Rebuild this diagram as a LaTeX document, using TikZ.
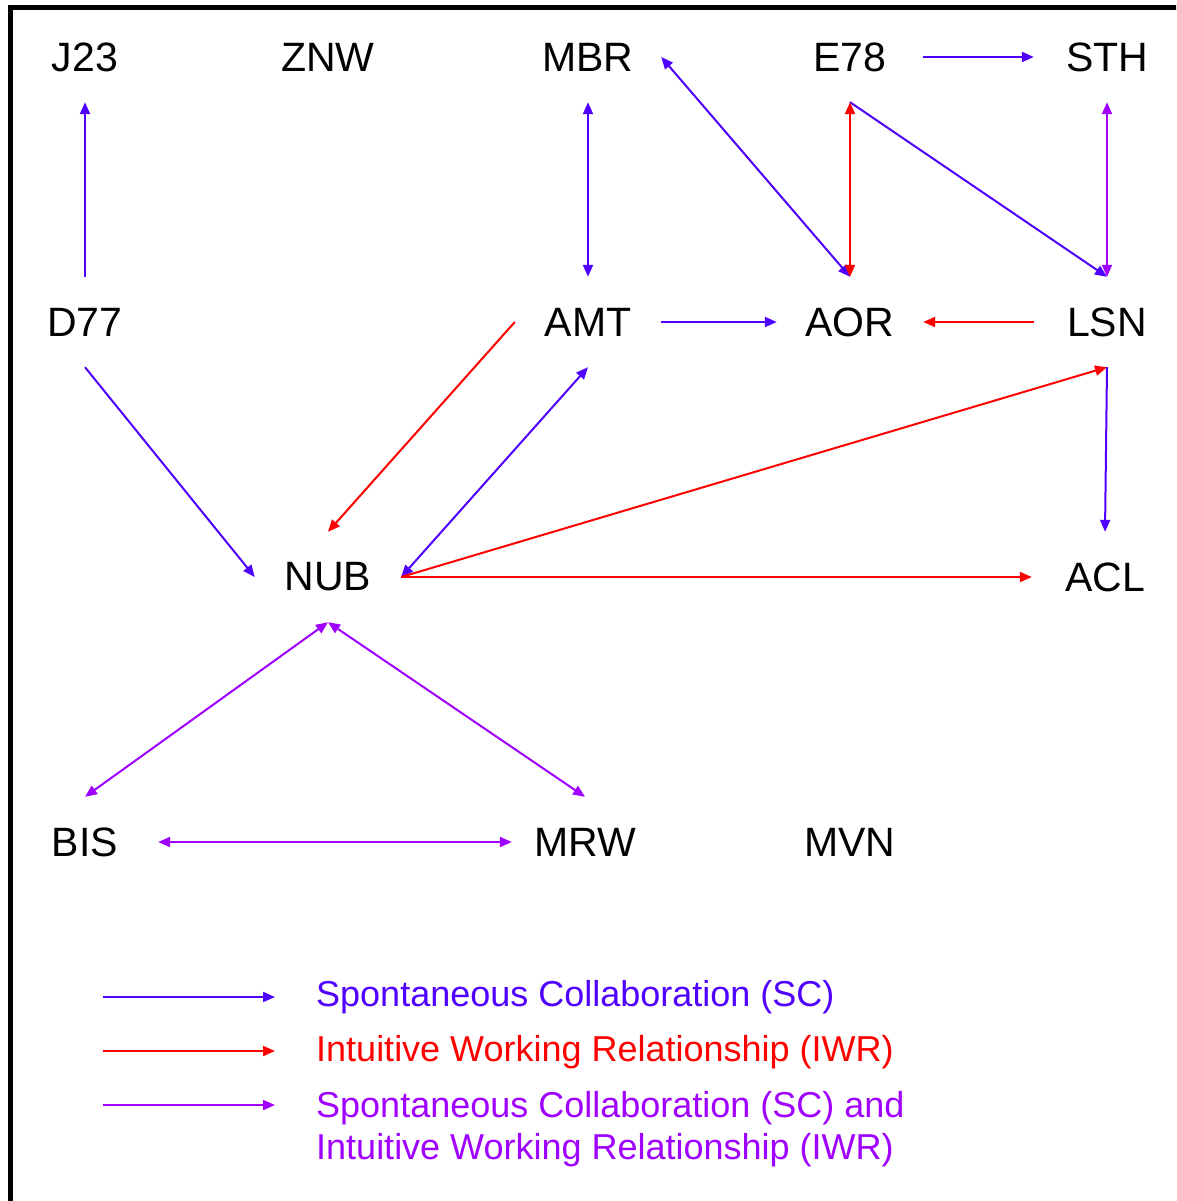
\documentclass[tikz,border=0pt]{standalone}
\usepackage{fontspec}
\setmainfont{Liberation Sans}
\usetikzlibrary{arrows.meta}
\definecolor{scblue}{HTML}{5000FF}
\definecolor{iwrred}{HTML}{FF0000}
\definecolor{bothpurple}{HTML}{A000FF}
\tikzset{
  lab/.style={minimum width=146pt, minimum height=90pt, inner sep=0pt,
    font=\fontsize{41}{41}\selectfont},
  legtext/.style={anchor=base west, inner sep=0pt, font=\fontsize{36}{43}\selectfont},
  headtip/.style={-{Triangle[length=12pt,width=10pt]}},
  bothtip/.style={{Triangle[length=12pt,width=10pt]}-{Triangle[length=12pt,width=10pt]}},
  sc/.style={draw=scblue, line width=2pt},
  iwr/.style={draw=iwrred, line width=2pt},
  both/.style={draw=bothpurple, line width=2pt}
}
\begin{document}
\begin{tikzpicture}[x=1pt,y=-1pt]
\useasboundingbox (0,0) rectangle (1176,1201);
\fill[white] (0,0) rectangle (1176,1201);
\begin{scope}
  \clip (0,0) rectangle (1176,1201);
  \draw[line width=5pt] (10.8,7.5) rectangle (1260,1260);
\end{scope}

% nodes
\node[lab] (J23) at (85,57) {J23};
\node[lab] (ZNW) at (328,57) {ZNW};
\node[lab] (MBR) at (588,57) {MBR};
\node[lab] (E78) at (850,57) {E78};
\node[lab] (STH) at (1107,57) {STH};
\node[lab] (D77) at (85,322) {D77};
\node[lab] (AMT) at (588,322) {AMT};
\node[lab] (AOR) at (850,322) {AOR};
\node[lab] (LSN) at (1107,322) {LSN};
\node[lab] (NUB) at (328,577) {NUB};
\node[lab] (ACL) at (1105,577) {ACL};
\node[lab] (BIS) at (85,842) {BIS};
\node[lab] (MRW) at (585,842) {MRW};
\node[lab] (MVN) at (850,842) {MVN};

% connectors
\draw[sc,headtip] (D77.north) -- (J23.south);
\draw[sc,headtip] (D77.south) -- (NUB.west);
\draw[sc,bothtip] (MBR.south) -- (AMT.north);
\draw[sc,bothtip] (MBR.east) -- (AOR.north);
\draw[sc,headtip] (E78.east) -- (STH.west);
\draw[sc,headtip] (E78.south) -- (LSN.north);
\draw[iwr,bothtip] (E78.south) -- (AOR.north);
\draw[both,bothtip] (STH.south) -- (LSN.north);
\draw[sc,headtip] (AMT.east) -- (AOR.west);
\draw[iwr,headtip] (LSN.west) -- (AOR.east);
\draw[iwr,headtip] (AMT.west) -- (NUB.north);
\draw[sc,bothtip] (AMT.south) -- (NUB.east);
\draw[iwr,headtip] (NUB.east) -- (LSN.south);
\draw[sc,headtip] (LSN.south) -- (ACL.north);
\draw[iwr,headtip] (NUB.east) -- (ACL.west);
\draw[both,bothtip] (NUB.south) -- (BIS.north);
\draw[both,bothtip] (NUB.south) -- (MRW.north);
\draw[both,bothtip] (BIS.east) -- (MRW.west);

% legend
\coordinate (l1a) at (103,997);
\coordinate (l1b) at (275,997);
\coordinate (l2a) at (103,1051);
\coordinate (l2b) at (275,1051);
\coordinate (l3a) at (103,1105);
\coordinate (l3b) at (275,1105);
\draw[sc,headtip] (l1a) -- (l1b);
\draw[iwr,headtip] (l2a) -- (l2b);
\draw[both,headtip] (l3a) -- (l3b);
\node[legtext, text=scblue] (t1) at (316,1006) {Spontaneous Collaboration (SC)};
\node[legtext, text=iwrred] (t2) at (316,1061) {Intuitive Working Relationship (IWR)};
\node[legtext, text=bothpurple] (t3) at (316,1117) {Spontaneous Collaboration (SC) and};
\node[legtext, text=bothpurple] (t4) at (316,1159) {Intuitive Working Relationship (IWR)};
\end{tikzpicture}
\end{document}
